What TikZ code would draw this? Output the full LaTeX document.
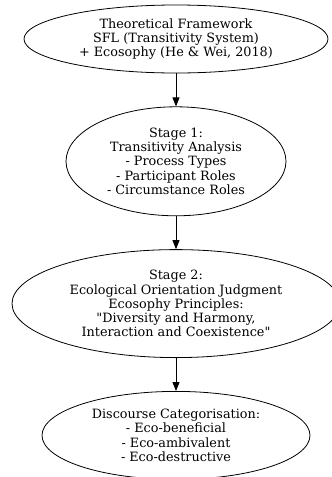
\documentclass[tikz,border=0pt]{standalone}
\usepackage{fontspec}
\setmainfont{DejaVu Serif}
\usetikzlibrary{shapes.geometric,positioning,arrows.meta}

\begin{document}
\begin{tikzpicture}[x=1pt, y=1pt, node distance=33pt,
    stage/.style={ellipse, draw, inner sep=0pt, align=center, line width=0.8pt, font=\fontsize{12.8}{14.2}\selectfont},
    flow/.style={draw, line width=0.8pt, -{Triangle[length=9pt,width=7pt]}}]
    \clip (0,0) rectangle (332,-477);

    \node[stage, minimum width=304pt, minimum height=68pt] (theory) at (176,-39) {Theoretical Framework\\SFL (Transitivity System)\\+ Ecosophy (He \& Wei, 2018)};
    \node[stage, minimum width=220pt, minimum height=109pt, below=of theory] (stageone) {Stage 1:\\Transitivity Analysis\\- Process Types\\- Participant Roles\\- Circumstance Roles};
    \node[stage, minimum width=328pt, minimum height=108pt, below=of stageone] (stagetwo) {Stage 2:\\Ecological Orientation Judgment\\Ecosophy Principles:\\\textquotedbl Diversity and Harmony,\\Interaction and Coexistence\textquotedbl};
    \node[stage, minimum width=268pt, minimum height=88pt, below=of stagetwo] (categ) {Discourse Categorisation:\\- Eco-beneficial\\- Eco-ambivalent\\- Eco-destructive};

    \draw[flow] (theory) -- (stageone);
    \draw[flow] (stageone) -- (stagetwo);
    \draw[flow] (stagetwo) -- (categ);
\end{tikzpicture}
\end{document}
